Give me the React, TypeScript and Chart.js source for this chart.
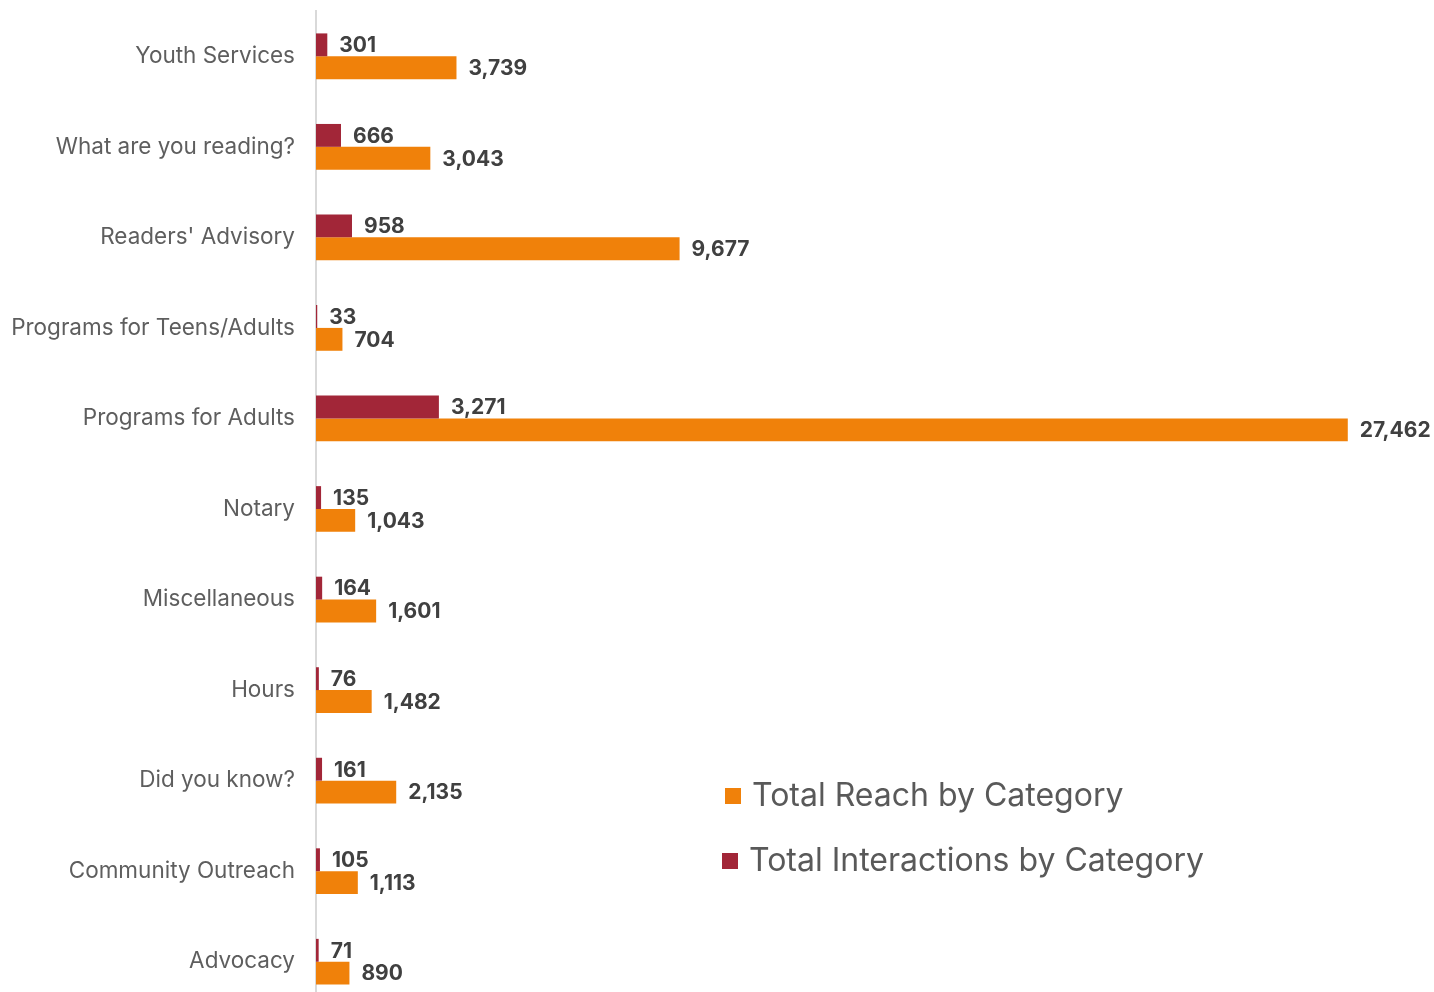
import React, { useEffect, useRef } from "react";
import { Chart, registerables } from "chart.js";

Chart.register(...registerables);

const categories = [
  "Youth Services",
  "What are you reading?",
  "Readers' Advisory",
  "Programs for Teens/Adults",
  "Programs for Adults",
  "Notary",
  "Miscellaneous",
  "Hours",
  "Did you know?",
  "Community Outreach",
  "Advocacy",
];

const interactions = [301, 666, 958, 33, 3271, 135, 164, 76, 161, 105, 71];
const reach = [3739, 3043, 9677, 704, 27462, 1043, 1601, 1482, 2135, 1113, 890];

const interactionsLabel = "Total Interactions by Category";
const reachLabel = "Total Reach by Category";

const ORANGE = "#F0810A";
const RED = "#A22638";

const valueLabels = {
  id: "valueLabels",
  afterDatasetsDraw(chart: any) {
    const ctx = chart.ctx;
    ctx.save();
    ctx.font = "bold 21px Inter";
    ctx.fillStyle = "#404040";
    ctx.textAlign = "left";
    ctx.textBaseline = "middle";
    chart.data.datasets.forEach((ds: any, di: number) => {
      const meta = chart.getDatasetMeta(di);
      meta.data.forEach((bar: any, i: number) => {
        const v = ds.data[i];
        ctx.fillText(v.toLocaleString("en-US"), bar.x + 12, bar.y + 1);
      });
    });
    ctx.restore();
  },
};

const customLegend = {
  id: "customLegend",
  afterDraw(chart: any) {
    const ctx = chart.ctx;
    ctx.save();
    ctx.font = "32px Inter";
    ctx.textBaseline = "middle";
    ctx.textAlign = "left";
    const items = [
      { label: reachLabel, color: ORANGE, x: 725, y: 796, tx: 752 },
      { label: interactionsLabel, color: RED, x: 722, y: 861, tx: 749 },
    ];
    items.forEach((it) => {
      ctx.fillStyle = it.color;
      ctx.fillRect(it.x, it.y - 8, 16, 16);
      ctx.fillStyle = "#595959";
      ctx.fillText(it.label, it.tx, it.y);
    });
    ctx.restore();
  },
};

export default function App() {
  const ref = useRef<HTMLCanvasElement | null>(null);

  useEffect(() => {
    if (!ref.current) return;
    Chart.defaults.font.family = "Inter";
    const chart = new Chart(ref.current, {
      type: "bar",
      data: {
        labels: categories,
        datasets: [
          {
            label: interactionsLabel,
            data: interactions,
            backgroundColor: RED,
            categoryPercentage: 0.505,
            barPercentage: 1,
          },
          {
            label: reachLabel,
            data: reach,
            backgroundColor: ORANGE,
            categoryPercentage: 0.505,
            barPercentage: 1,
          },
        ],
      },
      options: {
        indexAxis: "y",
        animation: false,
        responsive: false,
        maintainAspectRatio: false,
        layout: { padding: { top: 11, bottom: 1, left: 0, right: 66 } },
        plugins: {
          legend: { display: false },
          tooltip: { enabled: false },
        },
        scales: {
          x: {
            display: false,
            min: 0,
            max: 28000,
          },
          y: {
            grid: { display: false, drawTicks: false },
            border: { display: true, color: "#D9D9D9", width: 2 },
            ticks: {
              color: "#5E5E5E",
              font: { size: 22.5, family: "Inter" },
              padding: 21,
            },
            afterFit(scale: any) {
              scale.width = 316;
              scale.paddingTop = 0;
              scale.paddingBottom = 0;
            },
          },
        },
      },
      plugins: [valueLabels, customLegend],
    });
    return () => chart.destroy();
  }, []);

  return (
    <div
      style={{
        position: "fixed",
        top: 0,
        left: 0,
        width: 1434,
        height: 992,
        overflow: "hidden",
        background: "#fff",
      }}
    >
      <canvas ref={ref} width={1434} height={1008} style={{ display: "block" }} />
    </div>
  );
}
